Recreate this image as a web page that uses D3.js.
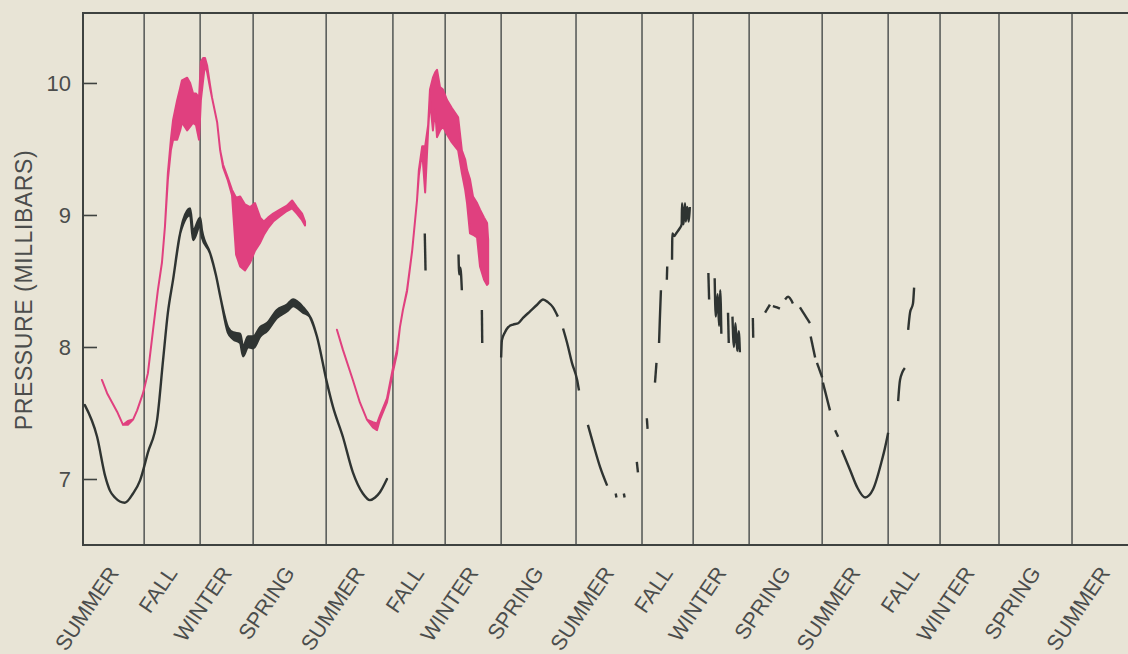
<!DOCTYPE html>
<meta charset="utf-8">
<style>
body { margin: 0; background: #e8e4d6; }
svg { display: block; font-family: "Liberation Sans", Arial, sans-serif; }
.frame { stroke: #3e4240; stroke-width: 2px; fill: none; }
.season { stroke: #5b5e5c; stroke-width: 1.6px; }
.tick line { stroke: #3e4240; stroke-width: 1.6px; }
.tick text, .slabel, .ytitle { fill: #4b4d4c; }
.pink { fill: #e0407f; stroke: #e0407f; stroke-width: 2px; stroke-linejoin: round; }
.black { fill: #2f3432; stroke: #2f3432; stroke-width: 2.4px; stroke-linejoin: round; }
.dash { fill: none; stroke: #2f3432; stroke-width: 2.4px; stroke-linejoin: round; }
</style>
<svg width="1128" height="654"></svg>
<script src="https://cdn.jsdelivr.net/npm/d3@7"></script>
<script>

// x axis is in sols (Mars days) from landing
var seasonEdges = [0, 165, 316, 459, 656, 836, 977, 1128, 1330, 1508, 1646, 1797, 1994, 2172, 2312, 2471, 2668, 2846];
var seasonNames = ["SUMMER", "FALL", "WINTER", "SPRING", "SUMMER", "FALL", "WINTER", "SPRING",
                   "SUMMER", "FALL", "WINTER", "SPRING", "SUMMER", "FALL", "WINTER", "SPRING", "SUMMER"];
var yTicks = [7, 8, 9, 10];

// [sol, low, high]  (low == high where the trace is a thin line)
var pinkYear1 = [
  [51,7.75,7.75],[65,7.65,7.65],[92,7.51,7.51],[108,7.41,7.41],[121,7.41,7.44],[135,7.45,7.45],
  [146,7.52,7.52],[162,7.65,7.65],[175,7.80,7.80],[189,8.13,8.13],[202,8.43,8.43],[213,8.64,8.64],
  [221,8.91,8.91],[229,9.27,9.32],[237,9.49,9.57],[243,9.57,9.72],[254,9.57,9.87],[262,9.64,9.96],
  [267,9.70,10.02],[281,9.64,10.04],[289,9.67,10.00],[297,9.70,9.92],[305,9.68,9.92],[313,9.57,9.89],
  [318,9.87,10.16],[324,10.02,10.19],[329,10.14,10.19],[335,10.08,10.13],[343,9.96,9.98],[348,9.89,9.89],
  [362,9.70,9.70],[370,9.49,9.49],[378,9.36,9.38],[391,9.26,9.28],[402,9.15,9.19],[413,8.70,9.13],
  [424,8.61,9.14],[437,8.58,9.08],[451,8.64,9.06],[464,8.73,9.09],[478,8.79,8.98],[488,8.85,8.95],
  [499,8.90,8.98],[513,8.95,9.01],[531,8.99,9.04],[550,9.03,9.07],[564,9.05,9.11],[577,9.01,9.06],
  [591,8.96,9.01],[599,8.92,8.95]
];

var pinkYear2 = [
  [685,8.13,8.13],[701,7.98,7.98],[728,7.75,7.75],[747,7.58,7.58],[766,7.45,7.45],[782,7.39,7.43],
  [793,7.37,7.42],[801,7.45,7.48],[820,7.58,7.61],[836,7.81,7.84],[847,7.95,7.98],[855,8.15,8.15],
  [863,8.28,8.28],[874,8.42,8.43],[888,8.73,8.73],[901,9.11,9.11],[906,9.30,9.34],[915,9.48,9.52],
  [923,9.17,9.52],[931,9.64,9.68],[936,9.87,9.95],[944,9.64,10.04],[950,9.80,10.08],[955,9.59,10.10],
  [963,9.64,9.97],[971,9.67,9.95],[982,9.61,9.87],[995,9.55,9.81],[1012,9.49,9.74],[1022,9.32,9.49],
  [1031,9.19,9.42],[1036,9.09,9.34],[1044,8.86,9.27],[1052,8.85,9.14],[1063,8.83,9.09],[1071,8.61,9.04],
  [1082,8.51,8.98],[1090,8.47,8.94],[1093,8.48,8.81]
];

var blackYear1 = [
  [5,7.56,7.56],[38,7.32,7.32],[60,7.02,7.02],[73,6.91,6.91],[86,6.86,6.86],[113,6.82,6.82],[135,6.89,6.89],
  [154,6.99,6.99],[175,7.20,7.20],[200,7.45,7.45],[216,7.90,7.90],[229,8.26,8.26],[243,8.51,8.51],
  [262,8.86,8.86],[270,8.93,8.96],[289,9.00,9.05],[297,8.81,8.88],[316,8.92,8.98],[321,8.83,8.88],
  [343,8.71,8.71],[359,8.54,8.54],[372,8.36,8.36],[391,8.11,8.15],[405,8.06,8.11],[424,8.03,8.10],
  [432,7.93,8.00],[445,8.00,8.08],[459,7.99,8.08],[478,8.08,8.15],[496,8.12,8.18],[523,8.22,8.28],
  [550,8.27,8.32],[567,8.31,8.36],[594,8.26,8.30],[612,8.23,8.23],[631,8.08,8.08],[658,7.73,7.73],
  [674,7.55,7.55],[701,7.32,7.32],[728,7.05,7.05],[755,6.89,6.89],[774,6.84,6.84],[788,6.86,6.86],
  [801,6.90,6.90],[820,7.00,7.00]
];

// later record has gaps: list of separate pieces, each [sol, mb]
var blackPieces = [
  [[922,8.86],[924,8.58]],
  [[1013,8.70],[1015,8.55],[1018,8.60],[1022,8.43]],
  [[1076,8.28],[1077,8.03]],
  [[1128,7.92],[1130,8.05],[1138,8.11],[1147,8.15],[1160,8.17],[1174,8.18],[1187,8.22],[1206,8.27],
   [1225,8.32],[1241,8.36],[1254,8.34],[1268,8.30],[1281,8.23]],
  [[1295,8.14],[1306,8.03],[1319,7.88],[1333,7.75],[1338,7.67]],
  [[1362,7.41],[1376,7.27],[1395,7.09],[1414,6.95]],
  [[1437,6.89],[1439,6.86]],
  [[1459,6.89],[1461,6.86]],
  [[1494,7.13],[1497,7.05]],
  [[1521,7.46],[1523,7.38]],
  [[1543,7.73],[1547,7.88]],
  [[1554,8.03],[1556,8.20],[1559,8.43]],
  [[1575,8.51],[1576,8.61]],
  [[1589,8.66],[1590,8.86],[1595,8.84],[1600,8.86],[1610,8.90],[1615,8.93],[1616,9.09],[1620,8.93],
   [1624,9.09],[1626,8.95],[1630,9.06],[1634,8.95],[1637,9.06]],
  [[1687,8.56],[1689,8.36]],
  [[1704,8.52],[1707,8.23],[1712,8.40],[1716,8.16],[1719,8.43],[1722,8.10]],
  [[1740,8.26],[1742,8.03]],
  [[1752,8.23],[1756,8.00],[1760,8.18],[1765,7.97],[1769,8.12],[1772,7.96]],
  [[1807,8.22],[1808,8.07]],
  [[1840,8.26],[1853,8.32]],
  [[1861,8.31],[1872,8.30],[1880,8.29]],
  [[1894,8.36],[1902,8.38],[1915,8.33]],
  [[1934,8.30],[1961,8.18]],
  [[1963,8.08],[1975,7.92]],
  [[1980,7.88],[1994,7.77]],
  [[1996,7.73],[2015,7.52]],
  [[2029,7.37],[2037,7.32]],
  [[2047,7.22],[2069,7.07],[2088,6.94],[2110,6.86],[2131,6.92],[2155,7.14],[2163,7.23],[2172,7.35]],
  [[2199,7.59],[2204,7.75],[2217,7.84]],
  [[2226,8.13],[2231,8.26],[2239,8.33],[2242,8.45]]
];

var svg = d3.select("svg"),
    margin = {top: 13, left: 83, bottom: 109},
    width = +svg.attr("width"),
    height = +svg.attr("height");

var x = d3.scaleLinear().domain([0, 2819]).range([margin.left, width]),
    y = d3.scaleLinear().domain([6.5, 10.53]).range([height - margin.bottom, margin.top]);

var band = d3.area()
    .x(function(d) { return x(d[0]); })
    .y0(function(d) { return y(d[1]); })
    .y1(function(d) { return y(d[2]); });

var line = d3.line()
    .curve(d3.curveMonotoneX)
    .x(function(d) { return x(d[0]); })
    .y(function(d) { return y(d[1]); });

// season dividers
svg.append("g").selectAll("line")
    .data(seasonEdges.slice(1, -1))
  .enter().append("line")
    .attr("class", "season")
    .attr("x1", function(d) { return x(d); })
    .attr("x2", function(d) { return x(d); })
    .attr("y1", y.range()[1])
    .attr("y2", y.range()[0]);

// frame: left, top, bottom
svg.append("path")
    .attr("class", "frame")
    .attr("d", "M" + (width + 2) + "," + y.range()[1] + "H" + x(0) + "V" + y.range()[0] + "H" + (width + 2));

// y axis, ticks pointing into the plot
var yAxis = svg.append("g")
    .attr("transform", "translate(" + x(0) + ",0)")
    .call(d3.axisRight(y).tickValues(yTicks).tickSize(14).tickFormat(d3.format("d")));
yAxis.select(".domain").remove();
yAxis.selectAll(".tick text")
    .attr("x", -12)
    .attr("text-anchor", "end")
    .attr("dy", "0.36em")
    .style("font-size", "22px");

svg.append("text")
    .attr("class", "ytitle")
    .attr("transform", "translate(32," + 290 + ") rotate(-90)")
    .attr("text-anchor", "middle")
    .style("font-size", "23px")
    .style("letter-spacing", "0.6px")
    .text("PRESSURE (MILLIBARS)");

// season labels under each interval
svg.append("g").selectAll("text")
    .data(seasonNames)
  .enter().append("text")
    .attr("class", "slabel")
    .attr("text-anchor", "end")
    .attr("transform", function(d, i) {
      var cx = x((seasonEdges[i] + seasonEdges[i + 1]) / 2) + 6;
      return "translate(" + cx + "," + (y.range()[0] + 28) + ") rotate(-56)";
    })
    .style("font-size", "21.5px")
    .text(function(d) { return d; });

// traces
[pinkYear1, pinkYear2].forEach(function(s) {
  svg.append("path").attr("class", "pink").attr("d", band(s));
});

svg.append("path").attr("class", "black").attr("d", band.curve(d3.curveMonotoneX)(blackYear1));

svg.append("g").selectAll("path")
    .data(blackPieces)
  .enter().append("path")
    .attr("class", "dash")
    .attr("d", line);

</script>
</body></html>
